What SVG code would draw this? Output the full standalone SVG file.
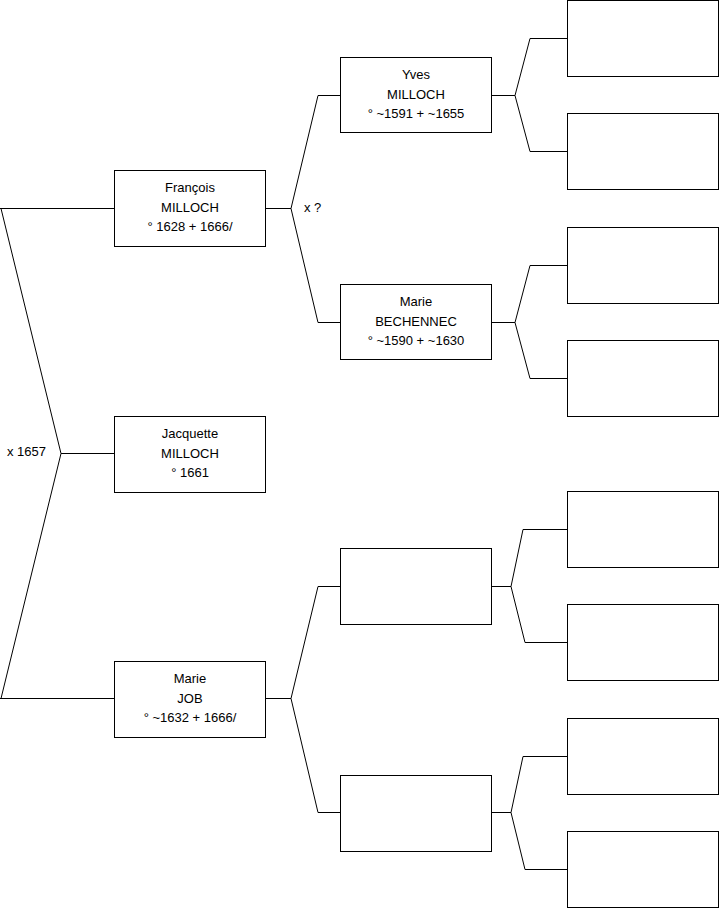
<svg xmlns="http://www.w3.org/2000/svg" width="719" height="908" viewBox="0 0 719 908">
<style>
.box{fill:#fff;stroke:#000;stroke-width:1}
.c{fill:none;stroke:#000;stroke-width:1}
text{font-family:"Liberation Sans",Arial,sans-serif;font-size:13px;fill:#000}
.m{text-anchor:middle}
</style>
<rect width="719" height="908" fill="#fff"/>
<g id="connectors">
<path class="c" d="M0,208.5 H114.5 M1,208.5 L61,453.5 L1,698.5 M0,698.5 H114.5 M61,453.5 H114.5"/>
<path class="c" d="M265.5,208.5 H291 M318,95.5 L291,208.5 L318,322.5 M318,95.5 H340.5 M318,322.5 H340.5"/>
<path class="c" d="M265.5,698.5 H291 M318,586.5 L291,698.5 L318,812.5 M318,586.5 H340.5 M318,812.5 H340.5"/>
<path class="c" d="M491.5,95.5 H515 M530,38.5 L515,95.5 L530,151.5 M530,38.5 H567.5 M530,151.5 H567.5"/>
<path class="c" d="M491.5,322.5 H515 M530,265.5 L515,322.5 L530,378.5 M530,265.5 H567.5 M530,378.5 H567.5"/>
<path class="c" d="M491.5,586.5 H511 M523,529.5 L511,586.5 L525,642.5 M523,529.5 H567.5 M525,642.5 H567.5"/>
<path class="c" d="M491.5,812.5 H511 M523,756.5 L511,812.5 L525,869.5 M523,756.5 H567.5 M525,869.5 H567.5"/>
<text x="304" y="212">x ?</text>
<text x="7" y="456">x 1657</text>
</g>
<g id="francois">
<rect class="box" x="114.5" y="170.5" width="151" height="76"/>
<text class="m" x="190" y="192">François</text>
<text class="m" x="190" y="212">MILLOCH</text>
<text class="m" x="190" y="231">° 1628 + 1666/</text>
</g>
<g id="jacquette">
<rect class="box" x="114.5" y="416.5" width="151" height="76"/>
<text class="m" x="190" y="438">Jacquette</text>
<text class="m" x="190" y="458">MILLOCH</text>
<text class="m" x="190" y="477">° 1661</text>
</g>
<g id="marie-job">
<rect class="box" x="114.5" y="661.5" width="151" height="76"/>
<text class="m" x="190" y="683">Marie</text>
<text class="m" x="190" y="703">JOB</text>
<text class="m" x="190" y="722">° ~1632 + 1666/</text>
</g>
<g id="yves">
<rect class="box" x="340.5" y="57.5" width="151" height="75"/>
<text class="m" x="416" y="79">Yves</text>
<text class="m" x="416" y="99">MILLOCH</text>
<text class="m" x="416" y="118">° ~1591 + ~1655</text>
</g>
<g id="marie-bechennec">
<rect class="box" x="340.5" y="284.5" width="151" height="75"/>
<text class="m" x="416" y="306">Marie</text>
<text class="m" x="416" y="326">BECHENNEC</text>
<text class="m" x="416" y="345">° ~1590 + ~1630</text>
</g>
<g id="job-father"><rect class="box" x="340.5" y="548.5" width="151" height="76"/></g>
<g id="job-mother"><rect class="box" x="340.5" y="775.5" width="151" height="76"/></g>
<g id="g3-1"><rect class="box" x="567.5" y="0.5" width="151" height="76"/></g>
<g id="g3-2"><rect class="box" x="567.5" y="113.5" width="151" height="76"/></g>
<g id="g3-3"><rect class="box" x="567.5" y="227.5" width="151" height="76"/></g>
<g id="g3-4"><rect class="box" x="567.5" y="340.5" width="151" height="76"/></g>
<g id="g3-5"><rect class="box" x="567.5" y="491.5" width="151" height="76"/></g>
<g id="g3-6"><rect class="box" x="567.5" y="604.5" width="151" height="76"/></g>
<g id="g3-7"><rect class="box" x="567.5" y="718.5" width="151" height="76"/></g>
<g id="g3-8"><rect class="box" x="567.5" y="831.5" width="151" height="76"/></g>
</svg>
